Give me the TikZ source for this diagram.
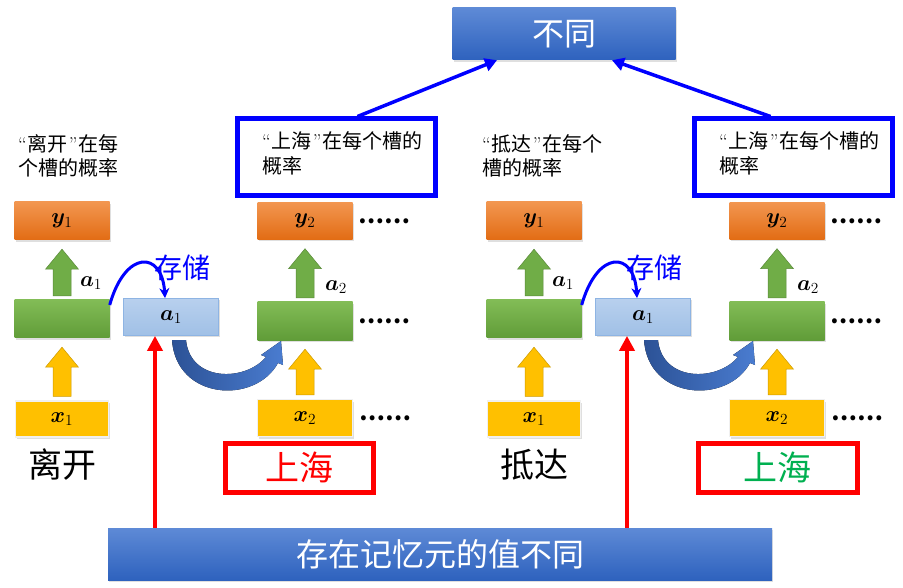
\documentclass[tikz,border=0pt]{standalone}
\usepackage{fix-cm}
\usepackage{amsmath, bm}
\usepackage{fontspec}
\newfontfamily\cjk{Noto Sans CJK SC}
\usetikzlibrary{positioning, calc, arrows.meta, shadows}
\definecolor{OrangeTop}{RGB}{242,150,80}
\definecolor{OrangeBot}{RGB}{226,108,20}
\definecolor{GreenTop}{RGB}{130,188,86}
\definecolor{GreenBot}{RGB}{96,156,56}
\definecolor{InYellow}{RGB}{255,192,0}
\definecolor{MemTop}{RGB}{184,208,238}
\definecolor{MemBot}{RGB}{160,192,230}
\definecolor{MemEdge}{RGB}{142,180,227}
\definecolor{TitleTop}{RGB}{94,138,214}
\definecolor{TitleBot}{RGB}{46,98,190}
\definecolor{CurveDark}{RGB}{44,82,150}
\definecolor{CurveLight}{RGB}{74,124,208}
\definecolor{FrameBlue}{RGB}{0,0,255}
\definecolor{FrameRed}{RGB}{255,0,0}
\definecolor{WordGreen}{RGB}{0,176,80}
\definecolor{ArrowGreen}{RGB}{112,173,71}

\newcommand{\qt}[1]{{\rmfamily “}\kern1pt#1\kern1pt{\rmfamily ”}\kern1pt}
% block arrow pointing up, from the top of #1 to the bottom of #2
\newcommand{\blockup}[3]{%
  \filldraw[#3] let \p1=(#1.north), \p2=(#2.south) in
    (\x1-9pt,\y1+4pt) -- (\x1-9pt,\y2-29pt) -- (\x1-16.5pt,\y2-29pt)
    -- (\x1,\y2-9pt) -- (\x1+16.5pt,\y2-29pt) -- (\x1+9pt,\y2-29pt)
    -- (\x1+9pt,\y1+4pt) -- cycle;}

\tikzset{
  box/.style={minimum width=95pt, minimum height=38pt, inner sep=0pt,
    font=\fontsize{22}{26}\selectfont,
    drop shadow={opacity=0.25, shadow xshift=1pt, shadow yshift=-2pt}},
  outbox/.style={box, top color=OrangeTop, bottom color=OrangeBot},
  hidbox/.style={box, top color=GreenTop, bottom color=GreenBot},
  inbox/.style={box, fill=InYellow, draw=gray!12, line width=1.5pt},
  membox/.style={box, top color=MemTop, bottom color=MemBot, draw=MemEdge, line width=0.8pt},
  title/.style={top color=TitleTop, bottom color=TitleBot, text=white, inner sep=0pt,
    font=\cjk\fontsize{32}{36}\selectfont,
    drop shadow={opacity=0.25, shadow xshift=1pt, shadow yshift=-2pt}},
  captext/.style={align=left, inner sep=0pt, font=\cjk\fontsize{20}{24.5}\selectfont},
  word/.style={font=\cjk\fontsize{34}{38}\selectfont, inner sep=0pt},
  lab/.style={font=\fontsize{22}{26}\selectfont, inner sep=0pt},
  store/.style={font=\cjk\fontsize{28}{30}\selectfont, text=FrameBlue, inner sep=0pt},
  dots/.style={font=\cjk\bfseries\fontsize{23}{24}\selectfont, inner sep=0pt},
  bframe/.style={draw=FrameBlue, line width=5pt},
  rframe/.style={draw=FrameRed, line width=5pt, font=\cjk\fontsize{34}{38}\selectfont},
  garrow/.style={fill=ArrowGreen, draw=ArrowGreen!80!black, line width=0.5pt},
  yarrow/.style={fill=InYellow, draw=InYellow!80!black, line width=0.5pt},
  storearrow/.style={draw=FrameBlue, line width=3pt, -{Stealth[length=10pt,width=10pt]}},
  memarrow/.style={draw=FrameRed, line width=4pt, -{Triangle[length=15pt,width=15pt]}},
  toparrow/.style={draw=FrameBlue, line width=3.5pt, -{Triangle[length=12pt,width=13pt]}}
}

\begin{document}
\begin{tikzpicture}[x=1pt, y=-1pt]
  \useasboundingbox (0,0) rectangle (903,588);

  % the two sentences share the same output box
  \node[title, minimum width=223pt, minimum height=52pt] (diff) at (564,34) {不同};
  \node[title, minimum width=664pt, minimum height=52pt] (bot) at (440,554) {存在记忆元的值不同};

  \foreach \s/\dx/\word/\ctext/\wcol/\fx/\rx/\rw/\cx in
      {L/0/离开/{\qt{离开}在每\\个槽的概率}/FrameRed/336.5/299/148/18,
       R/472/抵达/{\qt{抵达}在每个\\槽的概率}/WordGreen/321.5/305.5/159/10} {
    \begin{scope}[xshift=\dx pt]
      % first word
      \node[outbox] (\s-y1) at (62,221) {$\bm{y}_1$};
      \node[hidbox] (\s-h1) at (62,319) {};
      \node[inbox, minimum width=93pt, minimum height=36pt] (\s-x1) at (62,419) {$\bm{x}_1$};
      \node[word] (\s-w1) at (62,465) {\word};
      \node[captext, anchor=north west] (\s-c1) at (\cx,134) {\ctext};
      \node[lab] (\s-a1) at (91,283) {$\bm{a}_1$};

      % memory cell
      \node[membox, minimum height=37pt] (\s-m1) at (171,317) {$\bm{a}_1$};
      \node[store] (\s-st) at (182,268) {存储};
      \draw[storearrow] ([yshift=14pt]\s-h1.east) .. controls (125,250) and (162,250) .. ([xshift=-6pt]\s-m1.north);
      \coordinate (\s-rb) at ([xshift=-16pt]\s-m1.south);

      % second word: 上海
      \node[outbox, minimum height=37pt] (\s-y2) at (305,221) {$\bm{y}_2$};
      \node[hidbox] (\s-h2) at (305,321) {};
      \node[inbox, minimum height=37pt] (\s-x2) at (305,418) {$\bm{x}_2$};
      \node[lab] (\s-a2) at (336,287) {$\bm{a}_2$};
      \node[dots, right=6pt of \s-y2] (\s-dy) {……};
      \node[dots, right=6pt of \s-h2] (\s-dh) {……};
      \node[dots, right=6pt of \s-x2] (\s-dx) {……};
      \node[bframe, minimum width=198pt, minimum height=77pt] (\s-f2) at (\fx,157.5) {};
      \node[captext, anchor=north west] (\s-c2) at ([shift={(27pt,-15pt)}]\s-f2.north west) {\qt{上海}在每个槽的\\概率};
      \node[rframe, minimum width=\rw pt, minimum height=49pt, text=\wcol] (\s-r2) at (\rx,467.5) {上海};

      % memory goes into the next step
      \fill[left color=CurveDark, right color=CurveLight]
        (172,340) .. controls (176,400) and (255,405) .. (278,363) -- (283,365) -- (281,341)
        -- (261,355) -- (266,357) .. controls (245,382) and (190,382) .. (186,340) -- cycle;
    \end{scope}

    \blockup{\s-x1}{\s-h1}{yarrow}
    \blockup{\s-h1}{\s-y1}{garrow}
    \blockup{\s-x2}{\s-h2}{yarrow}
    \blockup{\s-h2}{\s-y2}{garrow}
    \draw[memarrow] (\s-rb |- bot.north) -- (\s-rb);
  }

  \draw[toparrow] ([xshift=21pt]L-f2.north) -- ([xshift=-67pt]diff.south);
  \draw[toparrow] ([xshift=-23pt]R-f2.north) -- ([xshift=48pt]diff.south);
\end{tikzpicture}
\end{document}
